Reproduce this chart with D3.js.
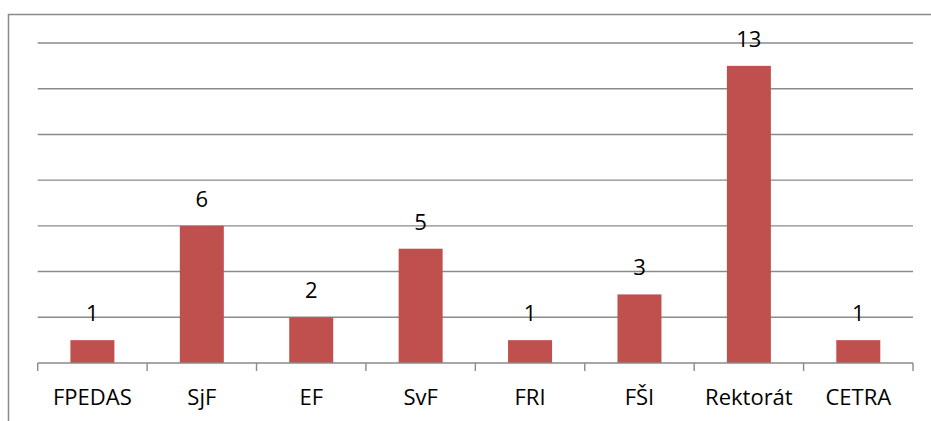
<!DOCTYPE html>
<head>
<meta charset="utf-8">
<title>Bar chart</title>
<style>
body { margin: 0; background: #fff; }
.grid line { stroke: #8a8a8a; stroke-width: 1.4; }
.axis path, .axis line { stroke: #8a8a8a; stroke-width: 1.4; }
.axis text, .lbl { font-family: "Open Sans", sans-serif; font-size: 22px; fill: #000; }
.bar { fill: #C0504D; }
</style>
<script src="https://d3js.org/d3.v7.min.js"></script>
</head>
<body>
<script>
// data
var categories = ["FPEDAS", "SjF", "EF", "SvF", "FRI", "FŠI", "Rektorát", "CETRA"];
var values = [1, 6, 2, 5, 1, 3, 13, 1];
var gridTicks = [2, 4, 6, 8, 10, 12, 14];

var width = 931, height = 421;
var plotLeft = 37.7, plotRight = 913, plotTop = 43, plotBottom = 363;

var svg = d3.select("body").append("svg")
    .attr("width", width)
    .attr("height", height);

// outer frame (only top/left edges visible)
svg.append("rect")
    .attr("x", 8.5).attr("y", 14.5)
    .attr("width", 1000).attr("height", 1000)
    .attr("fill", "none")
    .attr("stroke", "#8a8a8a")
    .attr("stroke-width", 1.5);

var xScale = d3.scaleBand().domain(categories).range([plotLeft, plotRight]).paddingInner(0).paddingOuter(0);
var yScale = d3.scaleLinear().domain([0, 14]).range([plotBottom, plotTop]);

// gridlines
svg.append("g").attr("class", "grid")
    .selectAll("line")
    .data(gridTicks)
    .enter().append("line")
    .attr("x1", plotLeft).attr("x2", plotRight)
    .attr("y1", function(d) { return yScale(d); })
    .attr("y2", function(d) { return yScale(d); });

// bars
var bw = 44;
svg.selectAll(".bar")
    .data(values)
    .enter().append("rect")
    .attr("class", "bar")
    .attr("x", function(d, i) { return xScale(categories[i]) + xScale.bandwidth() / 2 - bw / 2; })
    .attr("width", bw)
    .attr("y", function(d) { return yScale(d); })
    .attr("height", function(d) { return plotBottom - yScale(d); });

// value labels
svg.selectAll(".lbl")
    .data(values)
    .enter().append("text")
    .attr("class", "lbl")
    .attr("text-anchor", "middle")
    .attr("x", function(d, i) { return xScale(categories[i]) + xScale.bandwidth() / 2; })
    .attr("y", function(d) { return yScale(d) - 19; })
    .text(function(d) { return d; });

// x axis with ticks at category boundaries
var ax = svg.append("g").attr("class", "axis")
    .attr("transform", "translate(0," + plotBottom + ")");
ax.append("line").attr("x1", plotLeft).attr("x2", plotRight).attr("y1", 0).attr("y2", 0);
ax.selectAll(".tk")
    .data(d3.range(categories.length + 1))
    .enter().append("line")
    .attr("class", "tk")
    .attr("x1", function(i) { return plotLeft + i * xScale.bandwidth(); })
    .attr("x2", function(i) { return plotLeft + i * xScale.bandwidth(); })
    .attr("y1", 0).attr("y2", 8);
ax.selectAll("text")
    .data(categories)
    .enter().append("text")
    .attr("text-anchor", "middle")
    .attr("x", function(d) { return xScale(d) + xScale.bandwidth() / 2; })
    .attr("y", 42)
    .text(function(d) { return d; });
</script>
</body>
